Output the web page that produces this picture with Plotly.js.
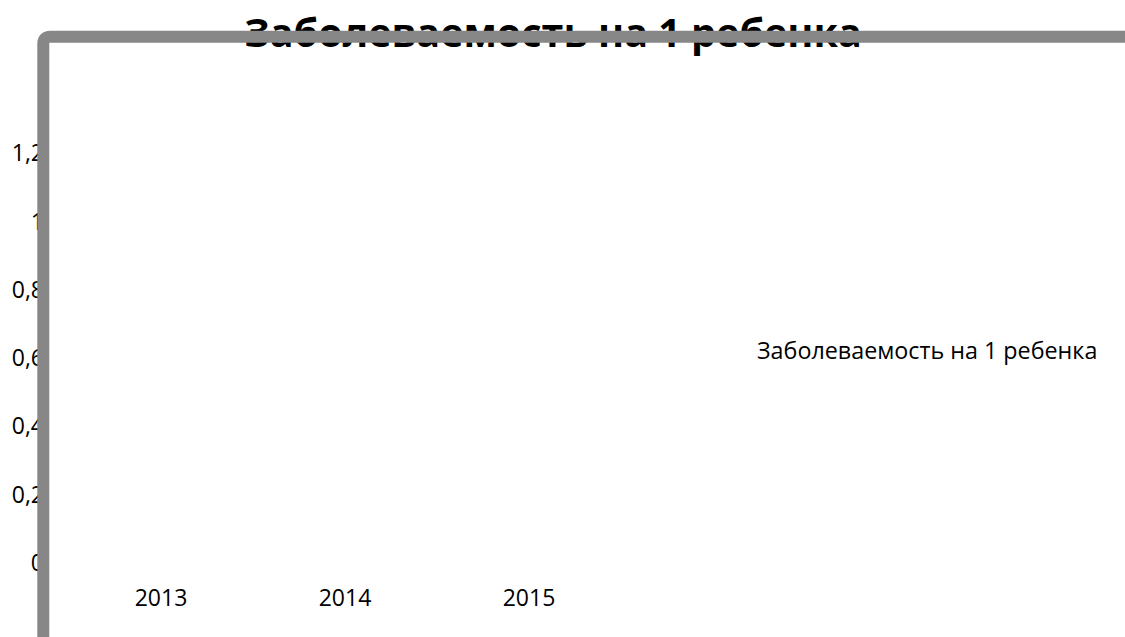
<!DOCTYPE html>
<html>
<head>
<meta charset="utf-8">
<script src="https://cdn.plot.ly/plotly-3.0.1.min.js"></script>
<style>html,body{margin:0;padding:0;background:#fff;}#chart{width:1125px;height:637px;}</style>
</head>
<body>
<div id="chart"></div>
<script>
// Data (no visible values in the reference)
const categories = ['2013', '2014', '2015'];
const seriesName = 'Заболеваемость на 1 ребенка';
const seriesValues = [null, null, null];
const yTickValues = [0, 0.2, 0.4, 0.6, 0.8, 1, 1.2];
const chartTitle = 'Заболеваемость на 1 ребенка';

const FONT = 'Open Sans, Lato, sans-serif';

const trace = {
  type: 'scatter',
  mode: 'lines',
  x: categories,
  y: seriesValues,
  name: seriesName,
  line: {color: 'rgba(0,0,0,0)', width: 0},
  showlegend: true,
  hoverinfo: 'skip'
};

// plot area: x 69..621 px, y 85..563 px
const L = 69, R = 621, T = 85, B = 563;
const W = R - L, H = B - T;
const px2x = p => (p - L) / W;
const py2y = p => (B - p) / H;
const bx = px2x(43.3), by = py2y(36.7);
const rx = 7 / W, ry = 7 / H;
const borderPath = `M ${bx},${py2y(700)} L ${bx},${by - ry} Q ${bx},${by} ${bx + rx},${by} L ${px2x(1140)},${by}`;

const layout = {
  width: 1125,
  height: 637,
  margin: {l: L, r: 1125 - R, t: T, b: 637 - B},
  paper_bgcolor: '#ffffff',
  plot_bgcolor: '#ffffff',
  separators: ', ',
  font: {family: FONT, color: '#000000', size: 23},
  title: {
    text: '<b>' + chartTitle + '</b>',
    font: {family: FONT, size: 39.5, color: '#000000'},
    x: 553 / 1125, xref: 'container', xanchor: 'center',
    y: 1 - 33 / 637, yref: 'container', yanchor: 'middle'
  },
  showlegend: true,
  legend: {
    x: 717 / 1125, xref: 'container', xanchor: 'left',
    y: 1 - 350 / 637, yref: 'container', yanchor: 'middle',
    font: {family: FONT, size: 23.3, color: '#000000'},
    bgcolor: 'rgba(0,0,0,0)'
  },
  xaxis: {
    type: 'category',
    categoryorder: 'array',
    categoryarray: categories,
    range: [-0.5, 2.5],
    showgrid: false, zeroline: false, showline: false,
    ticks: '',
    ticklabelstandoff: 19,
    tickfont: {family: FONT, size: 23, color: '#000000'},
    fixedrange: true
  },
  yaxis: {
    range: [0, 1.4],
    tickmode: 'array',
    tickvals: yTickValues,
    ticktext: yTickValues.map(v => String(v).replace('.', ',')),
    showgrid: false, zeroline: false, showline: false,
    ticks: '',
    ticklabelstandoff: 24,
    tickfont: {family: FONT, size: 23, color: '#000000'},
    fixedrange: true
  },
  shapes: [{
    type: 'path',
    xref: 'paper', yref: 'paper',
    path: borderPath,
    line: {color: '#878787', width: 12},
    layer: 'above'
  }]
};

Plotly.newPlot('chart', [trace], layout, {displayModeBar: false, staticPlot: true}).then(gd => {
  // the chart-area frame is drawn over the title and tick labels
  const above = gd.querySelector('.layer-above');
  const svgs = gd.querySelectorAll('svg.main-svg');
  if (above && svgs.length > 1) svgs[1].appendChild(above);
});
</script>
</body>
</html>
